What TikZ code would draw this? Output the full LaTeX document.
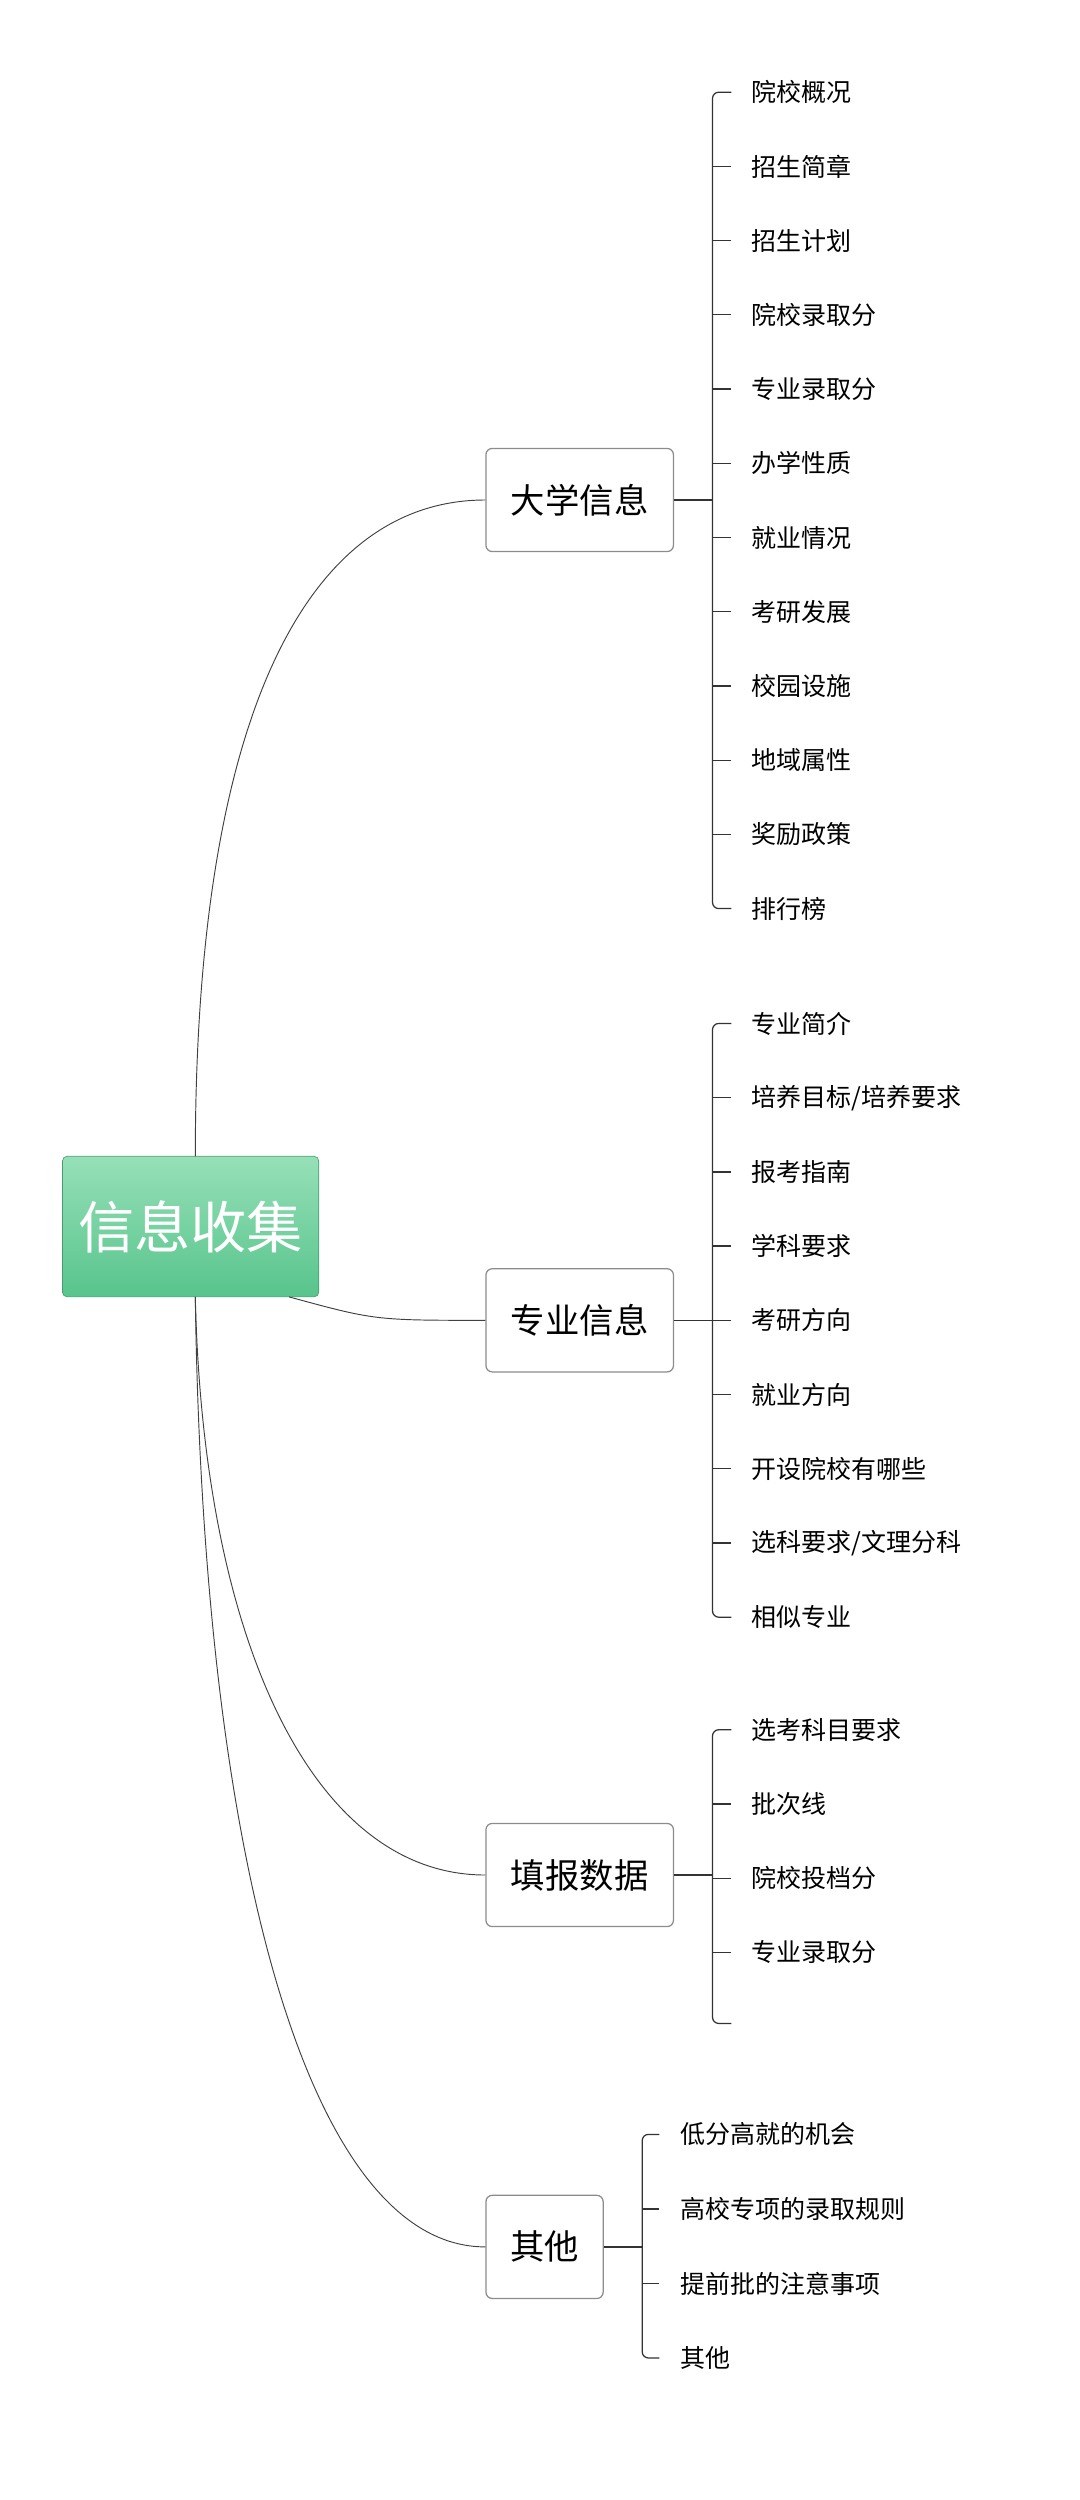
\documentclass[tikz,border=0pt]{standalone}
\usepackage{fontspec}
\setmainfont{Noto Sans CJK SC}
\usetikzlibrary{calc}
\definecolor{rtop}{RGB}{150,224,184}
\definecolor{rbot}{RGB}{88,196,140}
\begin{document}
\begin{tikzpicture}[x=1pt,y=1pt,
  item/.style={anchor=west,font=\fontsize{16}{18}\selectfont,inner sep=0pt},
  topic/.style={draw=black!45,rounded corners=4pt,minimum height=66pt,font=\fontsize{22}{24}\selectfont,line width=0.8pt},
  link/.style={draw=black!75,line width=0.6pt},
  br/.style={draw=black!80,line width=0.8pt,rounded corners=4pt}]
\useasboundingbox (0,0) rectangle (691,-1600);
\node[rounded corners=3pt,draw=rbot!80!black,top color=rtop,bottom color=rbot,minimum width=164pt,minimum height=90pt,text=white,font=\fontsize{36}{40}\selectfont] (root) at (122,-785) {信息收集};
\node[topic,minimum width=120pt] (a) at (371,-320) {大学信息};
\node[topic,minimum width=120pt] (b) at (371,-845) {专业信息};
\node[topic,minimum width=120pt] (c) at (371,-1200) {填报数据};
\node[topic,minimum width=75pt] (d) at (348.5,-1438) {其他};
\draw[link] (125,-740) coordinate (r1) .. controls (125,-450) and (200,-320) .. (a.west);
\draw[link] (185,-830) coordinate (r2) .. controls (240,-845) .. (b.west);
\draw[link] (125,-830) coordinate (r3) .. controls (130,-1050) and (200,-1200) .. (c.west);
\draw[link] (125,-830) coordinate (r4) .. controls (130,-1200) and (200,-1438) .. (d.west);
\foreach \t [count=\i] in {院校概况,招生简章,招生计划,院校录取分,专业录取分,办学性质,就业情况,考研发展,校园设施,地域属性,奖励政策,排行榜}{
  \node[item] (a\i) at (481,{-59-(\i-1)*47.5}) {\t};
}
\draw[br] (a.east) -- (456,-320);
\draw[br] ($(a1.west)+(-13,0)$) -| (456,-320) |- ($(a12.west)+(-13,0)$);
\foreach \i in {2,...,11}{\draw[br,rounded corners=0] (456,0|-a\i.west) -- ($(a\i.west)+(-13,0)$);}
\foreach \t [count=\i] in {专业简介,培养目标/培养要求,报考指南,学科要求,考研方向,就业方向,开设院校有哪些,选科要求/文理分科,相似专业}{
  \node[item] (b\i) at (481,{-655-(\i-1)*47.5}) {\t};
}
\draw[br] (b.east) -- (456,-845);
\draw[br] ($(b1.west)+(-13,0)$) -| (456,-845) |- ($(b9.west)+(-13,0)$);
\foreach \i in {2,...,8}{\draw[br,rounded corners=0] (456,0|-b\i.west) -- ($(b\i.west)+(-13,0)$);}
\foreach \t [count=\i] in {选考科目要求,批次线,院校投档分,专业录取分}{
  \node[item] (c\i) at (481,{-1107-(\i-1)*47.5}) {\t};
}
\coordinate (c5) at (468,-1295);
\draw[br] (c.east) -- (456,-1200);
\draw[br] ($(c1.west)+(-13,0)$) -| (456,-1200) |- (c5);
\foreach \i in {2,...,4}{\draw[br,rounded corners=0] (456,0|-c\i.west) -- ($(c\i.west)+(-13,0)$);}
\foreach \t [count=\i] in {低分高就的机会,高校专项的录取规则,提前批的注意事项,其他}{
  \node[item] (d\i) at (435,{-1366-(\i-1)*47.7}) {\t};
}
\draw[br] (d.east) -- (411,-1438);
\draw[br] ($(d1.west)+(-13,0)$) -| (411,-1438) |- ($(d4.west)+(-13,0)$);
\foreach \i in {2,3}{\draw[br,rounded corners=0] (411,0|-d\i.west) -- ($(d\i.west)+(-13,0)$);}
\end{tikzpicture}
\end{document}
